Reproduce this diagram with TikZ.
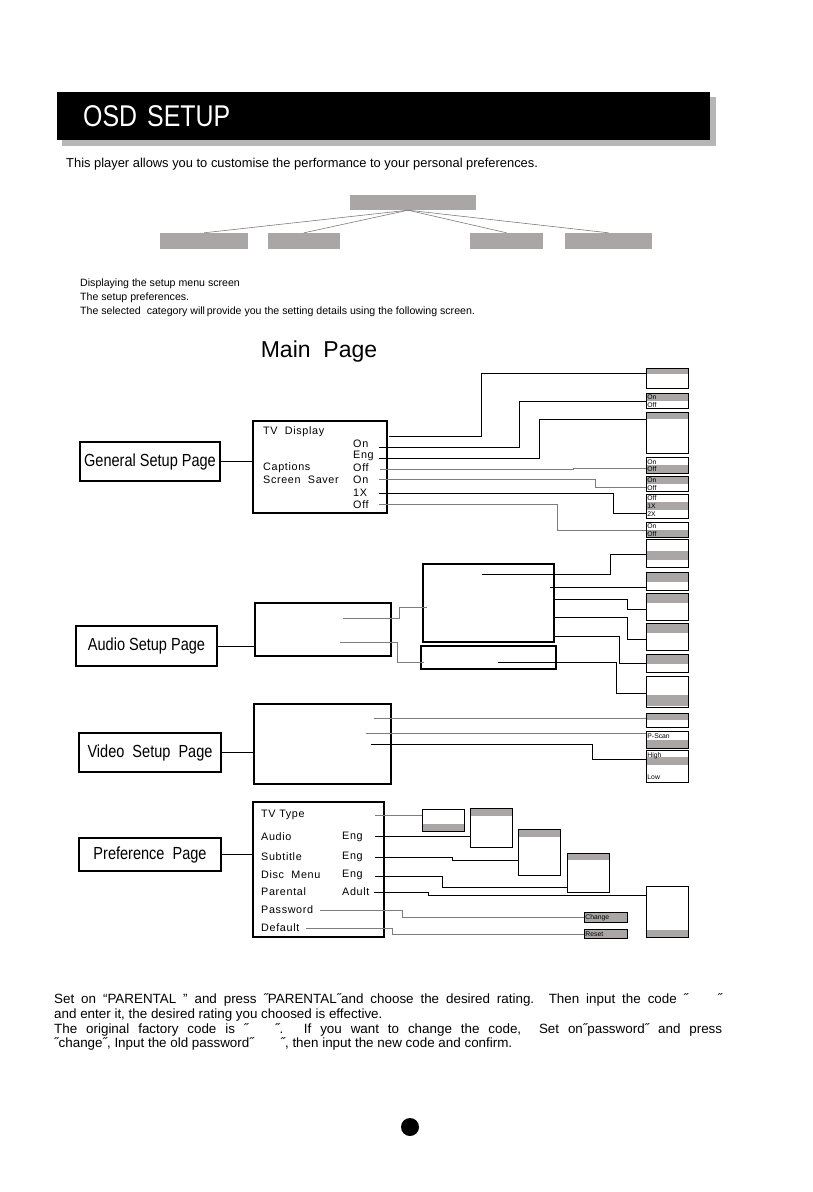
\documentclass[tikz,border=0pt]{standalone}
\usepackage{fontspec}
\setmainfont{Liberation Sans}
\newfontfamily\narrowfont[FakeStretch=0.83]{Liberation Sans}
\newfontfamily\menufont[LetterSpace=6.0]{Liberation Sans}
\usetikzlibrary{calc}

\definecolor{boxgray}{RGB}{170,166,165}
\definecolor{shadowgray}{RGB}{182,182,182}
\definecolor{wiregray}{RGB}{125,125,125}

\begin{document}
\begin{tikzpicture}[x = 1pt, y = -1pt,
  pagebox/.style = {draw, line width = 1.1pt, inner sep = 0pt, font = \narrowfont\fontsize{17.5}{18}\selectfont},
  menubox/.style = {draw, line width = 1.6pt, inner sep = 0pt},
  optbox/.style = {draw, fill = white, line width = 0.9pt, anchor = north west, minimum width = 42pt, text width = 40pt, inner sep = 1pt, align = left, font = \fontsize{6.8}{7.5}\selectfont},
  band/.style 2 args = {path picture = {\fill[boxgray] ($(path picture bounding box.north west)+(0,#1)$) rectangle ($(path picture bounding box.north east)+(0,#2)$);}},
  treebox/.style = {fill = boxgray, minimum height = 16pt, inner sep = 0pt},
  item/.style = {anchor = west, inner sep = 0pt, font = \menufont\fontsize{10.8}{12}\selectfont},
  note/.style = {anchor = west, inner sep = 0pt, font = \fontsize{13.4}{15}\selectfont},
  wire/.style = {line width = 0.8pt},
  softwire/.style = {line width = 0.9pt, wiregray}]

\useasboundingbox (0,0) rectangle (812,1192);

%title bar
        \fill[shadowgray] (62,97) rectangle (716,146);
        \node (titlebar) at (57,92) [anchor = north west, fill = black, text = white, minimum height = 48pt, text width = 601pt, inner xsep = 26pt, font = \narrowfont\fontsize{30}{30}\selectfont] {OSD SETUP};
        \node (intro) at (66,164) [anchor = west, inner sep = 0pt, font = \fontsize{12.9}{14}\selectfont] {This player allows you to customise the performance to your personal preferences.};

%menu tree
        \node (setup) at (413,202.5) [treebox, minimum width = 126pt, minimum height = 15pt] {};
        \node (cat1) at (204,241) [treebox, minimum width = 88pt] {};
        \node (cat2) at (304,241) [treebox, minimum width = 72pt] {};
        \node (cat3) at (506.5,241) [treebox, minimum width = 73pt] {};
        \node (cat4) at (608.5,241) [treebox, minimum width = 87pt] {};
        \foreach \c in {cat1, cat2, cat3, cat4}
            \draw[softwire, line width = 0.6pt] ([xshift = -5pt]setup.south) -- (\c.north);

        \node (desc1) at (80,284) [anchor = west, inner sep = 0pt, font = \fontsize{10.6}{12}\selectfont] {Displaying the setup menu screen};
        \node (desc2) at (80,298) [anchor = west, inner sep = 0pt, font = \fontsize{10.6}{12}\selectfont] {The setup preferences.};
        \node (desc3) at (80,312) [anchor = west, inner sep = 0pt, font = \fontsize{10.6}{12}\selectfont] {The selected\ \ category will\,provide you the setting details using the following screen.};
        \node (mainpage) at (319,352) [font = \fontsize{23}{24}\selectfont] {Main\ \ Page};

%general setup page
        \node (gen) at (150,461.5) [pagebox, minimum width = 140pt, minimum height = 39pt] {General Setup Page};
        \node (genmenu) at (320,467) [menubox, minimum width = 134pt, minimum height = 92pt] {};
        \draw[wire] (gen.east) -- (gen.east -| genmenu.west);

        \node (tvdisplay) at (263,432) [item] {TV\ \ Display};
        \node (captions) at (263,468) [item] {Captions};
        \node (saver) at (263,480) [item] {Screen\ \ Saver};
        \node (tvon) at (353,444) [item] {On};
        \node (capeng) at (353,456) [item] {Eng};
        \node (capoff) at (353,468) [item] {Off};
        \node (saveron) at (353,480) [item] {On};
        \node (speed) at (353,493) [item] {1X};
        \node (mode) at (353,505) [item] {Off};

        \node (r1) at (646,368) [optbox, minimum height = 20pt, band = {0}{6}] {};
        \node (r2) at (646,393) [optbox, minimum height = 15pt, band = {0}{7.5}] {On\\Off};
        \node (r3) at (646,412) [optbox, minimum height = 41pt, band = {0}{7}] {};
        \node (r4) at (646,457) [optbox, minimum height = 16pt, band = {8}{16}] {On\\Off};
        \node (r5) at (646,476) [optbox, minimum height = 15pt, band = {0}{7.5}] {On\\Off};
        \node (r6) at (646,494) [optbox, minimum height = 24pt, band = {8}{16}, font = \fontsize{6.8}{8}\selectfont] {Off\\1X\\2X};
        \node (r7) at (646,522) [optbox, minimum height = 15pt, band = {7.5}{15}] {On\\Off};

        \coordinate (g1) at (389,436);
        \coordinate (g2) at (379,447);
        \coordinate (g3) at (379,458);
        \coordinate (g4) at (380,469);
        \coordinate (g5) at (379,479);
        \coordinate (g6) at (379,493);
        \coordinate (g7) at (379,504);
        \draw[wire] (g1) -- ++(92,0) |- ([yshift = -5pt]r1.north west);
        \draw[wire] (g2) -- ++(140,0) |- (r2.west);
        \draw[wire] (g3) -- ++(160,0) |- ([yshift = -7pt]r3.north west);
        \draw[softwire] (g4) -- ++(193,0) |- ([yshift = -11pt]r4.north west);
        \draw[softwire] (g5) -- ++(216,0) |- ([yshift = -11pt]r5.north west);
        \draw[wire] (g6) -- ++(234,0) |- ([yshift = -19pt]r6.north west);
        \draw[softwire] (g7) -- ++(178,0) |- (r7.west);

%audio setup page
        \node (aud) at (146.5,646) [pagebox, minimum width = 141pt, minimum height = 40pt] {Audio Setup Page};
        \node (audmenu) at (323,629.5) [menubox, minimum width = 136pt, minimum height = 53pt] {};
        \node (boxa) at (488.5,603) [menubox, minimum width = 131pt, minimum height = 78pt] {};
        \node (boxb) at (488.5,657.5) [menubox, line width = 2pt, minimum width = 135pt, minimum height = 23pt] {};
        \draw[wire] (aud.east) -- (aud.east -| audmenu.west);

        \node (a1) at (646,539) [optbox, minimum height = 28pt, band = {12}{21}] {};
        \node (a2) at (646,572) [optbox, minimum height = 18pt, band = {0}{10}] {};
        \node (a3) at (646,593) [optbox, minimum height = 27pt, band = {0}{10}] {};
        \node (a4) at (646,623) [optbox, minimum height = 27pt, band = {0}{10}] {};
        \node (a5) at (646,654) [optbox, minimum height = 18pt, band = {0}{10}] {};
        \node (a6) at (646,676) [optbox, minimum height = 31pt, band = {19}{30}] {};

        \coordinate (s1) at (343,618);
        \coordinate (t1) at (427,607);
        \coordinate (s2) at (340,642);
        \coordinate (t2) at (424,662);
        \coordinate (s3) at (482,574);
        \coordinate (s4) at (550,587);
        \coordinate (s5) at (554,599);
        \coordinate (s6) at (554,617);
        \coordinate (s7) at (554,636);
        \coordinate (s8) at (498,662);
        \draw[softwire] (s1) -- ++(56,0) |- (t1);
        \draw[softwire] (s2) -- ++(57,0) |- (t2);
        \draw[wire] (s3) -- ++(128,0) |- ([yshift = -15pt]a1.north west);
        \draw[wire] (s4) -- (s4 -| a2.west);
        \draw[wire] (s5) -- ++(73,0) |- ([yshift = -16pt]a3.north west);
        \draw[wire] (s6) -- ++(73,0) |- ([yshift = -16pt]a4.north west);
        \draw[wire] (s7) -- ++(65,0) |- ([yshift = -9pt]a5.north west);
        \draw[wire] (s8) -- ++(118,0) |- ([yshift = -17pt]a6.north west);

%video setup page
        \node (vid) at (150,752.5) [pagebox, minimum width = 142pt, minimum height = 39pt] {Video\ \ Setup\ \ Page};
        \node (vidmenu) at (322.5,744) [menubox, line width = 1.1pt, minimum width = 137pt, minimum height = 80pt] {};
        \draw[wire] (vid.east) -- (vid.east -| vidmenu.west);

        \node (v1) at (646,713) [optbox, minimum height = 14pt, band = {0}{7}] {};
        \node (v2) at (646,731) [optbox, minimum height = 17pt, band = {9}{17}, font = \fontsize{6.8}{8.5}\selectfont] {P-Scan\\\mbox{}};
        \node (v3) at (646,750) [optbox, minimum height = 32pt, band = {7}{15}, font = \fontsize{6.8}{11}\selectfont] {High\\\mbox{}\\Low};

        \coordinate (w1) at (374,718);
        \coordinate (w2) at (366,733);
        \coordinate (w3) at (371,744);
        \draw[softwire] (w1) -- (w1 -| v1.west);
        \draw[softwire] (w2) -- (w2 -| v2.west);
        \draw[wire] (w3) -- ++(221,0) |- ([yshift = -9pt]v3.north west);

%preference page
        \node (pref) at (150,854.5) [pagebox, minimum width = 142pt, minimum height = 33pt] {Preference\ \ Page};
        \node (prefmenu) at (318.5,869.5) [menubox, line width = 1.1pt, minimum width = 131pt, minimum height = 135pt] {};
        \draw[wire] (pref.east) -- (pref.east -| prefmenu.west);

        \node (tvtype) at (261,815) [item] {TV Type};
        \node (audio) at (261,837) [item] {Audio};
        \node (subtitle) at (261,857) [item] {Subtitle};
        \node (discmenu) at (261,875) [item] {Disc\ \ Menu};
        \node (parental) at (261,892) [item] {Parental};
        \node (password) at (261,910) [item] {Password};
        \node (default) at (261,928) [item] {Default};
        \node (audioeng) at (342,837) [item] {Eng};
        \node (subeng) at (342,857) [item] {Eng};
        \node (disceng) at (342,875) [item] {Eng};
        \node (adult) at (342,892) [item] {Adult};

        \node (p1) at (422,809) [optbox, minimum height = 22pt, band = {15}{22}] {};
        \node (p2) at (470,808) [optbox, minimum height = 39pt, band = {0}{8}] {};
        \node (p3) at (518,829) [optbox, minimum height = 46pt, band = {0}{8}] {};
        \node (p4) at (567,853) [optbox, minimum height = 39pt, band = {0}{7}] {};
        \node (p5) at (646,886) [optbox, minimum height = 51pt, band = {44}{51}] {};
        \node (chg) at (584,912) [optbox, fill = boxgray, minimum height = 10pt, text width = 41pt] {Change};
        \node (rst) at (584,929) [optbox, fill = boxgray, minimum height = 9pt, text width = 41pt] {Reset};

        \coordinate (q1) at (375,815);
        \coordinate (q2) at (375,836);
        \coordinate (q3) at (375,857);
        \coordinate (q4) at (375,876);
        \coordinate (q5) at (374,892);
        \coordinate (q6) at (320,910);
        \coordinate (q7) at (306,928);
        \draw[softwire] (q1) -- (q1 -| p1.west);
        \draw[wire] (q2) -- (q2 -| p2.west);
        \draw[wire] (q3) -- ++(77,0) |- ([yshift = -31pt]p3.north west);
        \draw[wire] (q4) -- ++(67,0) |- ([yshift = -34pt]p4.north west);
        \draw[wire] (q5) -- ++(54,0) |- ([yshift = -9pt]p5.north west);
        \draw[softwire] (q6) -- ++(82,0) |- (chg.west);
        \draw[softwire] (q7) -- ++(86,0) |- (rst.west);

%notes
        \node (note1) at (54,1000) [note] {\makebox[668pt][s]{Set on “PARENTAL ” and press ˝PARENTAL˝and choose the desired rating. Then input the code ˝\hspace{2.2em}˝}};
        \node (note2) at (54,1015) [note] {and enter it, the desired rating you choosed is effective.};
        \node (note3) at (54,1030) [note] {\makebox[668pt][s]{The original factory code is ˝\hspace{2em}˝. If you want to change the code,\ \ Set on˝password˝ and press}};
        \node (note4) at (54,1044) [note] {˝change˝, Input the old password˝\hspace{2em}˝, then input the new code and confirm.};

        \node (pagenum) at (410,1127) [circle, fill = black, minimum size = 18pt, inner sep = 0pt] {};
\end{tikzpicture}
\end{document}
